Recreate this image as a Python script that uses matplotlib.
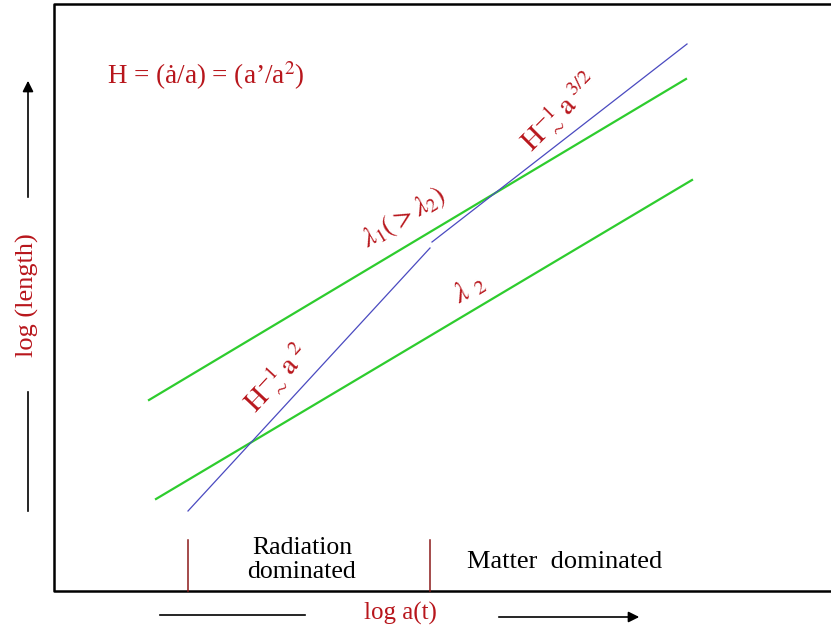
import matplotlib
matplotlib.use("Agg")
import matplotlib.pyplot as plt

# ---- data (log a on x, log length on y; arbitrary schematic units) ----
lambda1_loga = [149, 686]
lambda1_len = [233, 554]
lambda2_loga = [156, 692]
lambda2_len = [134, 453]
hubble_rad_loga = [188, 430]
hubble_rad_len = [122, 385]
hubble_mat_loga = [432, 687]
hubble_mat_len = [391, 589]
era_boundaries = [188, 430]

RED = "#b8161c"
GREEN = "#2ecc2e"
BLUE = "#4a4ac0"

plt.rcParams["font.family"] = ["Liberation Serif", "DejaVu Serif"]
plt.rcParams["mathtext.fontset"] = "stix"

fig = plt.figure(figsize=(8.31, 6.33), dpi=100)
ax = fig.add_axes([0, 0, 1, 1])
ax.set_xlim(0, 831)
ax.set_ylim(0, 633)
ax.axis("off")

# frame (box open on the right)
ax.plot([831, 54, 54, 831], [629, 629, 42, 42], color="black", lw=1.8, clip_on=False)

# lines
ax.plot(lambda1_loga, lambda1_len, color=GREEN, lw=1.6)
ax.plot(lambda2_loga, lambda2_len, color=GREEN, lw=1.6)
ax.plot(hubble_rad_loga, hubble_rad_len, color=BLUE, lw=0.9)
ax.plot(hubble_mat_loga, hubble_mat_len, color=BLUE, lw=0.9)

# era boundaries
for xb in era_boundaries:
    ax.plot([xb, xb], [42, 93], color="#8b1a1a", lw=1.1)

ax.text(302, 73, "Radiation\ndominated", ha="center", va="center", fontsize=18.5,
        color="black", linespacing=1.1)
ax.text(565, 71, "Matter  dominated", ha="center", va="center", fontsize=19, color="black")

# axis labels and arrows
ax.text(400, 20, "log a(t)", ha="center", va="center", fontsize=18, color=RED)
ax.plot([160, 305], [18, 18], color="black", lw=1.2)
ax.annotate("", xy=(642, 16), xytext=(496, 16),
            arrowprops=dict(arrowstyle="-|>", color="black", lw=1.2, mutation_scale=16))

ax.text(27, 338, "log (length)", ha="center", va="center", fontsize=19, color=RED, rotation=90)
ax.annotate("", xy=(28, 555), xytext=(28, 433),
            arrowprops=dict(arrowstyle="-|>", color="black", lw=1.2, mutation_scale=16))
ax.plot([28, 28], [241, 122], color="black", lw=1.2)

# formula
ax.text(107, 557, "H = (\u0227/a) = (a\u2019/a$^{2}$)", ha="left", va="center",
        fontsize=19.5, color=RED)

# line labels
ax.text(404, 416, r"$\lambda_1(>\lambda_2)$", ha="center", va="center", fontsize=20,
        color=RED, rotation=31, rotation_mode="anchor")
ax.text(469, 344, r"$\lambda\ _{2}$", ha="center", va="center", fontsize=21,
        color=RED, rotation=31, rotation_mode="anchor")
ax.text(275, 256, r"$\mathrm{H}^{-1}_{\ \sim}\,\mathrm{a}^{\ 2}$", ha="center", va="center",
        fontsize=21, color=RED, rotation=47, rotation_mode="anchor")
ax.text(558, 522, r"$\mathrm{H}^{-1}_{\ \sim}\,\mathrm{a}^{\ 3/2}$", ha="center", va="center",
        fontsize=21, color=RED, rotation=45, rotation_mode="anchor")

fig.savefig("out.png", dpi=100)
